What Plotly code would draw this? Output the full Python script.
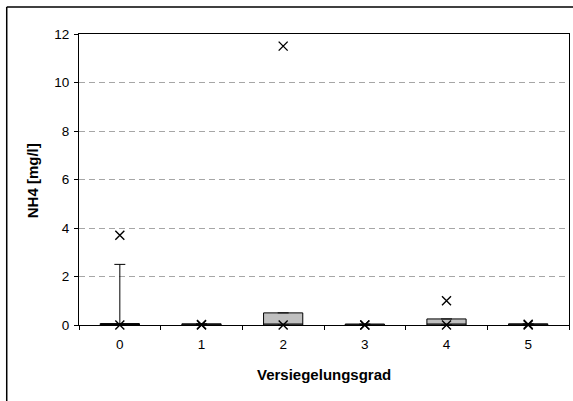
import plotly.graph_objects as go

categories = [0, 1, 2, 3, 4, 5]
tick_labels = ["0", "1", "2", "3", "4", "5"]
q1 = [0.0, 0.0, 0.0, 0.0, 0.0, 0.0]
median = [0.0, 0.0, 0.0, 0.0, 0.0, 0.0]
q3 = [0.06, 0.05, 0.5, 0.04, 0.25, 0.05]
lower = [0.0, 0.0, 0.0, 0.0, 0.0, 0.0]
upper = [2.5, 0.05, 0.5, 0.04, 0.25, 0.05]
max_vals = [3.7, 0.02, 11.5, 0.0, 1.0, 0.03]
min_vals = [0.0, 0.0, 0.0, 0.0, 0.0, 0.0]
x_title = "Versiegelungsgrad"
y_title = "NH4 [mg/l]"

font = "Liberation Sans, Arial, sans-serif"

fig = go.Figure()
fig.add_trace(go.Box(
    x=categories, q1=q1, median=median, q3=q3,
    lowerfence=lower, upperfence=upper,
    width=0.48, whiskerwidth=0.28, boxpoints=False,
    fillcolor="#c0c0c0", line=dict(color="#000000", width=1),
    showlegend=False, hoverinfo="skip",
))
for vals in (min_vals, max_vals):
    fig.add_trace(go.Scatter(
        x=categories, y=vals, mode="markers", cliponaxis=False,
        marker=dict(symbol="x-thin", size=9, line=dict(width=1.4, color="#000000"), color="#000000"),
        showlegend=False, hoverinfo="skip",
    ))

fig.update_layout(
    width=573, height=401,
    margin=dict(l=79, r=4, t=33.5, b=76, autoexpand=False),
    paper_bgcolor="white", plot_bgcolor="white",
    font=dict(family=font, size=13.5, color="#000000"),
    xaxis=dict(
        range=[-0.5, 5.5], tickvals=categories, ticktext=tick_labels,
        ticks="", showgrid=False, zeroline=False, automargin=False,
        showline=True, linecolor="#000000", linewidth=1.2, mirror=True,
        minor=dict(ticks="outside", tick0=-0.5, dtick=1, ticklen=4, tickcolor="#000000", showgrid=False),
        tickfont=dict(size=13.5), ticklabelstandoff=7,
    ),
    yaxis=dict(
        range=[0, 12], dtick=2, tick0=0, automargin=False,
        ticks="outside", ticklen=4, tickcolor="#000000",
        showgrid=True, gridcolor="#a6a6a6", griddash="6px,4px", gridwidth=1,
        zeroline=False, showline=True, linecolor="#000000", linewidth=1.2, mirror=True,
        tickfont=dict(size=13.5), ticklabelstandoff=2,
    ),
    annotations=[
        dict(text="<b>" + x_title + "</b>", xref="paper", yref="paper", x=0.5, y=-0.1715,
             xanchor="center", yanchor="middle", showarrow=False, font=dict(size=15)),
        dict(text="<b>" + y_title + "</b>", xref="paper", yref="paper", x=-0.0959, y=0.494,
             xanchor="center", yanchor="middle", textangle=-90, showarrow=False, font=dict(size=15)),
    ],
    shapes=[
        dict(type="line", xref="paper", yref="paper", x0=-0.1475, x1=1.2, y0=1.0926, y1=1.0926,
             line=dict(color="#000000", width=1.5)),
        dict(type="line", xref="paper", yref="paper", x0=-0.1475, x1=-0.1475, y0=1.0926, y1=-0.4,
             line=dict(color="#000000", width=1.5)),
    ],
)

fig.write_html("out.html", config={"displayModeBar": False},
               post_script="document.body.style.margin='0';")
